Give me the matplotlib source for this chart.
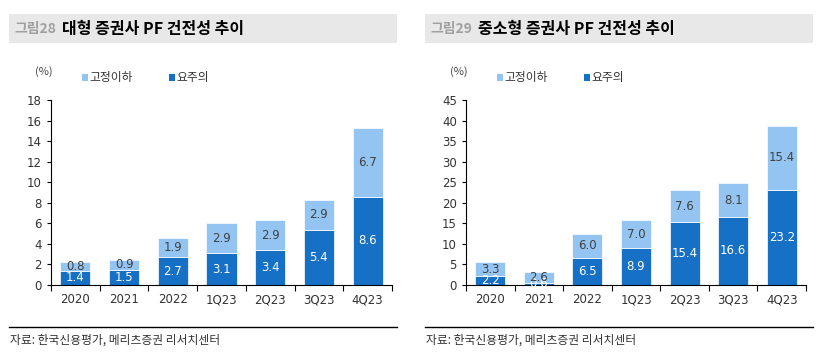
import matplotlib
matplotlib.use('Agg')
import matplotlib.pyplot as plt
from matplotlib.patches import Rectangle
from matplotlib.lines import Line2D

plt.rcParams['font.family'] = ['Noto Sans CJK KR', 'DejaVu Sans']

categories = ['2020', '2021', '2022', '1Q23', '2Q23', '3Q23', '4Q23']

# 대형 증권사
large_watch = [1.4, 1.5, 2.7, 3.1, 3.4, 5.4, 8.6]
large_npl = [0.8, 0.9, 1.9, 2.9, 2.9, 2.9, 6.7]

# 중소형 증권사
small_watch = [2.2, 0.6, 6.5, 8.9, 15.4, 16.6, 23.2]
small_npl = [3.3, 2.6, 6.0, 7.0, 7.6, 8.1, 15.4]

DARK = '#1570c6'
LIGHT = '#94c5f2'
W, H = 832, 360

fig = plt.figure(figsize=(8.32, 3.6), dpi=100)


def px(x, y):
    return x / W, 1 - y / H


def panel(x0, num, title, watch, npl, ymax, ystep, ax_left, ax_right):
    # title bar
    fig.patches.append(Rectangle(px(x0, 43), 388 / W, 29 / H, transform=fig.transFigure,
                                 facecolor='#e8e8e8', edgecolor='none', zorder=0))
    fig.text(*px(x0 + 5, 29), num, fontsize=10, color='#a0a0a0', va='center', fontweight='bold')
    fig.text(*px(x0 + 53, 29), title, fontsize=11.5, color='black', va='center', fontweight='bold')

    # footer
    fig.add_artist(Line2D([x0 / W, (x0 + 388) / W], [1 - 327 / H] * 2, color='black', lw=1.0,
                          transform=fig.transFigure))
    fig.text(*px(x0 + 1, 340), '자료: 한국신용평가, 메리츠증권 리서치센터', fontsize=8.5,
             color='#333333', va='center')

    # unit and legend
    fig.text(*px(ax_left - 16, 72), '(%)', fontsize=8, color='#444444', va='center')
    fig.patches.append(Rectangle(px(ax_left + 31, 81), 6 / W, 7 / H, transform=fig.transFigure,
                                 facecolor=LIGHT, edgecolor='none'))
    fig.text(*px(ax_left + 38, 77), '고정이하', fontsize=8.5, color='#333333', va='center')
    fig.patches.append(Rectangle(px(ax_left + 118, 81), 6 / W, 7 / H, transform=fig.transFigure,
                                 facecolor=DARK, edgecolor='none'))
    fig.text(*px(ax_left + 125, 77), '요주의', fontsize=8.5, color='#333333', va='center')

    l, b = px(ax_left, 285)
    ax = fig.add_axes([l, b, (ax_right - ax_left) / W, 185 / H])
    x = range(len(categories))
    ax.bar(x, watch, width=0.62, color=DARK, edgecolor='white', linewidth=0.5, zorder=2)
    ax.bar(x, npl, width=0.62, bottom=watch, color=LIGHT, edgecolor='white', linewidth=0.5, zorder=2)
    for i in x:
        ax.text(i, watch[i] / 2, f'{watch[i]:.1f}', ha='center', va='center', color='white',
                fontsize=8.5, family='DejaVu Sans', zorder=3)
        ax.text(i, watch[i] + npl[i] / 2, f'{npl[i]:.1f}', ha='center', va='center',
                color='#404040', fontsize=8.5, family='DejaVu Sans', zorder=3)

    ax.set_xlim(-0.5, len(categories) - 0.5)
    ax.set_ylim(0, ymax)
    ax.set_yticks(range(0, ymax + 1, ystep))
    ax.set_xticks([i + 0.5 for i in range(-1, len(categories))])
    ax.set_xticklabels([])
    ax.set_xticks(list(x), minor=True)
    ax.set_xticklabels(categories, minor=True)
    ax.tick_params(axis='x', which='major', length=4, direction='out', width=0.8)
    ax.tick_params(axis='x', which='minor', length=0, pad=6, labelsize=8.5, labelcolor='#333333')
    ax.tick_params(axis='y', length=3, width=0.8, labelsize=8.5, labelcolor='#333333')
    for lab in ax.get_xticklabels(minor=True) + ax.get_yticklabels():
        lab.set_family('DejaVu Sans')
    ax.spines['top'].set_visible(False)
    ax.spines['right'].set_visible(False)
    return ax


panel(9, '그림28', '대형 증권사 PF 건전성 추이', large_watch, large_npl, 18, 2, 51, 392)
panel(425, '그림29', '중소형 증권사 PF 건전성 추이', small_watch, small_npl, 45, 5, 466, 806)

fig.savefig('out.png', dpi=100)
